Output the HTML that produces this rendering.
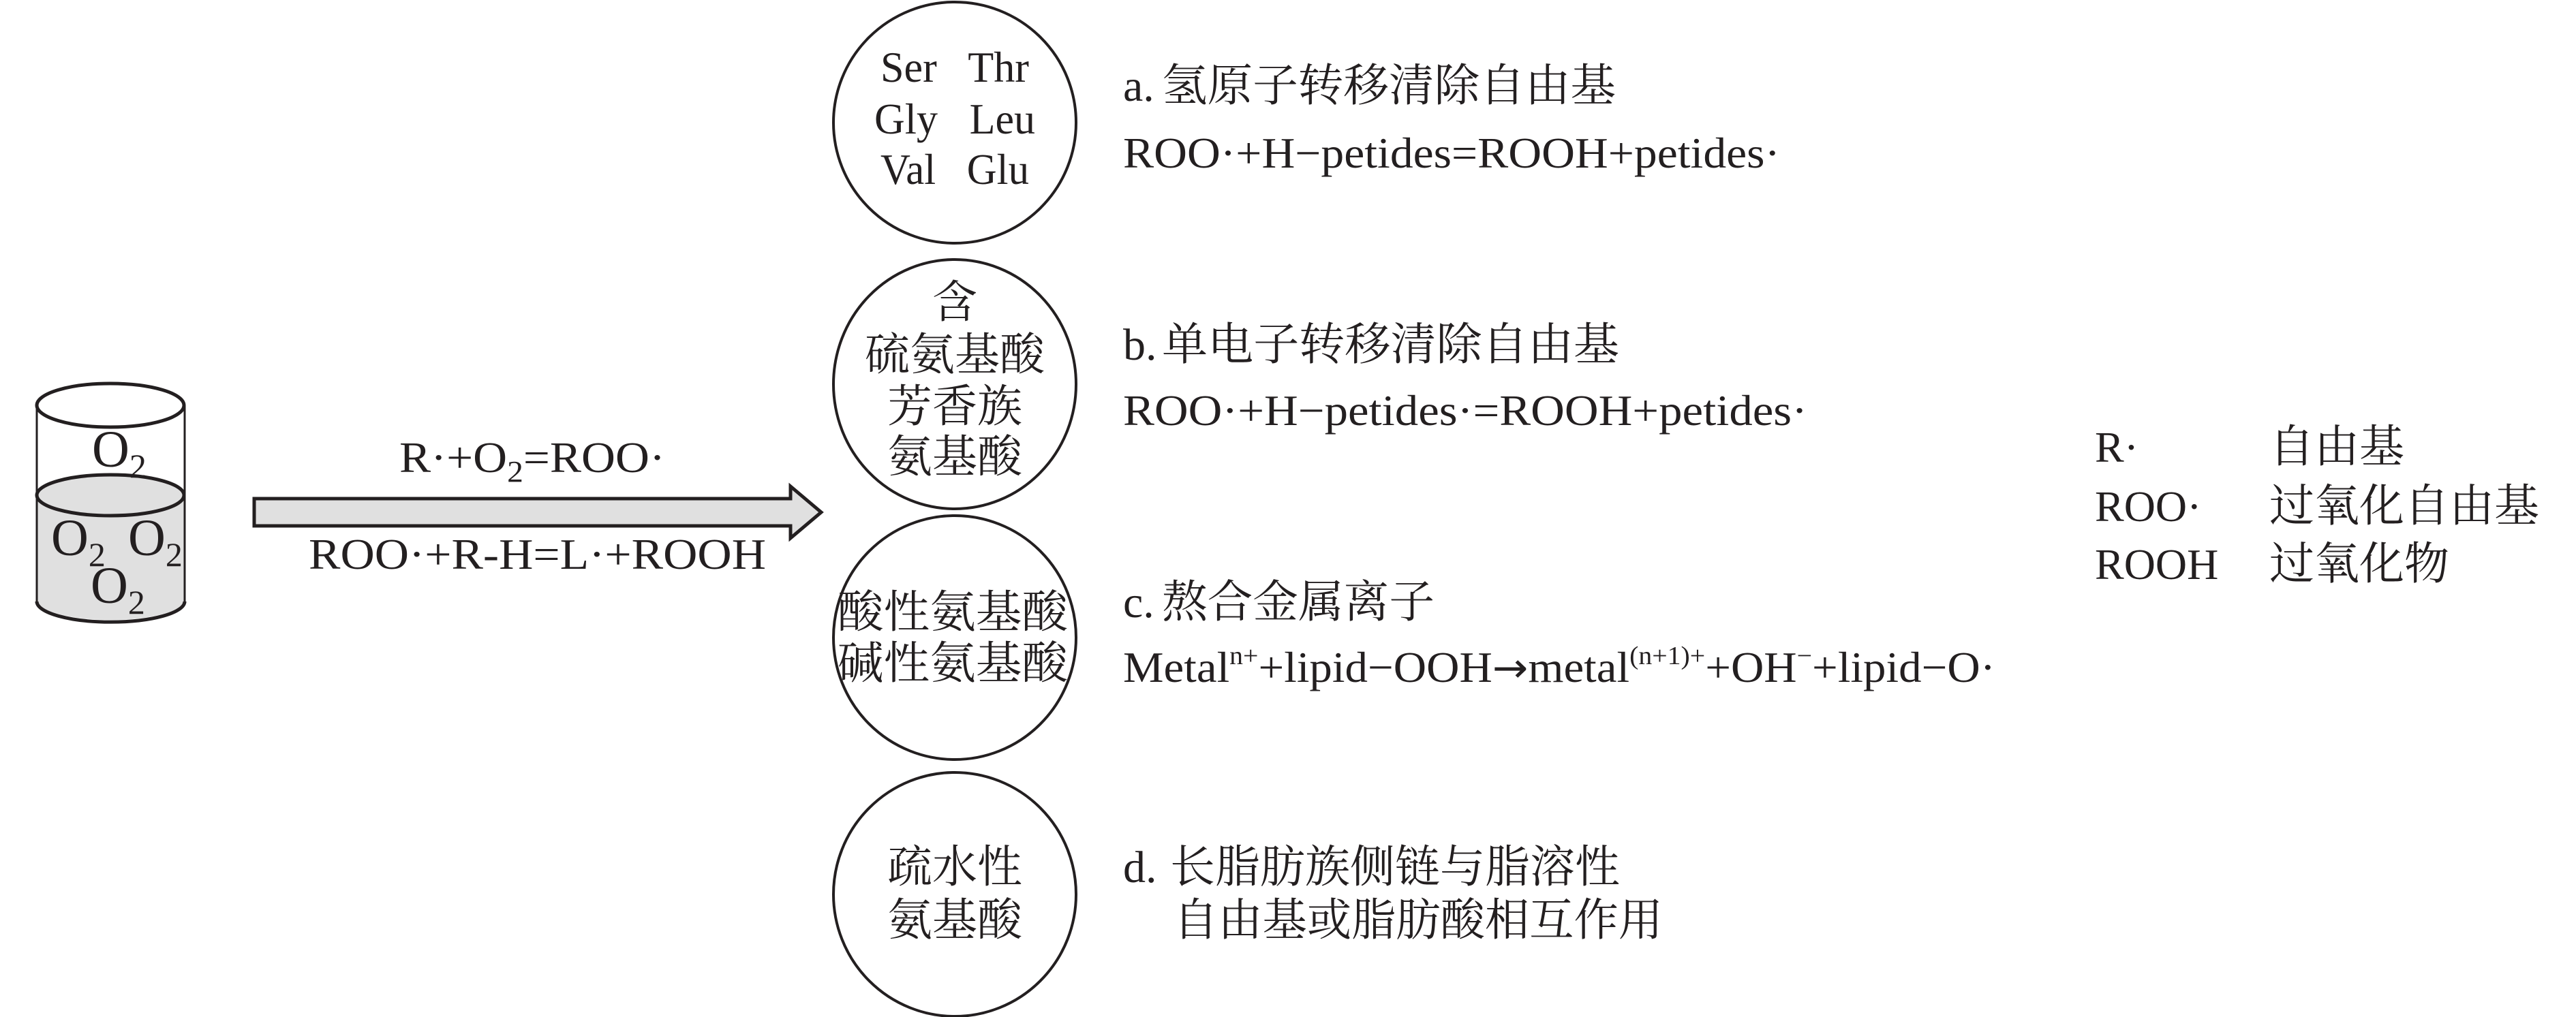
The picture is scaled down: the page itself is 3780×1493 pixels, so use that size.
<!DOCTYPE html>
<html><head><meta charset="utf-8"><style>
html,body{margin:0;padding:0;background:#fff;}
svg{display:block;}
text{fill:#231f20;}
.l{font-family:"Liberation Serif",serif;font-size:64px;}
.c{font-family:"Liberation Serif","Noto Serif CJK SC",serif;font-size:66px;}
</style></head><body>
<svg width="3780" height="1493" viewBox="0 0 3780 1493" xmlns="http://www.w3.org/2000/svg">
<!-- cylinder -->
<path d="M54 727 L54 883 A109 30 0 0 0 271 883 L271 727 Z" fill="#e0e0e0" stroke="none"/>
<ellipse cx="162" cy="727" rx="108" ry="30" fill="#e0e0e0" stroke="#231f20" stroke-width="5"/>
<line x1="54" y1="595" x2="54" y2="883" stroke="#231f20" stroke-width="3"/>
<line x1="271" y1="595" x2="271" y2="883" stroke="#231f20" stroke-width="3"/>
<path d="M54 883 A108 30 0 0 0 271 883" fill="none" stroke="#231f20" stroke-width="5"/>
<ellipse cx="162" cy="595" rx="108" ry="32" fill="#fff" stroke="#231f20" stroke-width="5"/>
<g class="l" style="font-size:76px">
<text x="135" y="685">O<tspan dy="16" font-size="50">2</tspan></text>
<text x="75" y="815">O<tspan dy="16" font-size="50">2</tspan></text>
<text x="188" y="815">O<tspan dy="16" font-size="50">2</tspan></text>
<text x="133" y="885">O<tspan dy="16" font-size="50">2</tspan></text>
</g>
<!-- arrow -->
<path d="M373 732 L1160 732 L1160 714 L1205 752 L1160 790 L1160 772 L373 772 Z" fill="#e0e0e0" stroke="#231f20" stroke-width="5"/>
<text class="l" x="586" y="693" textLength="390" lengthAdjust="spacingAndGlyphs">R·+O<tspan dy="14" font-size="44">2</tspan><tspan dy="-14">=ROO·</tspan></text>
<text class="l" x="453" y="835" textLength="671" lengthAdjust="spacingAndGlyphs">ROO·+R-H=L·+ROOH</text>
<!-- circles -->
<g fill="none" stroke="#231f20" stroke-width="4">
<ellipse cx="1401" cy="180" rx="178" ry="177"/>
<ellipse cx="1401" cy="564" rx="178" ry="183"/>
<ellipse cx="1401" cy="936" rx="178" ry="179"/>
<ellipse cx="1401" cy="1313" rx="178" ry="179"/>
</g>
<g class="l" text-anchor="middle">
<text x="1401" y="120" textLength="218" lengthAdjust="spacingAndGlyphs" xml:space="preserve">Ser   Thr</text>
<text x="1401" y="196" textLength="236" lengthAdjust="spacingAndGlyphs" xml:space="preserve">Gly   Leu</text>
<text x="1401" y="270" textLength="218" lengthAdjust="spacingAndGlyphs" xml:space="preserve">Val   Glu</text>
</g>
<g class="c" text-anchor="middle">
<text x="1401" y="466">含</text>
<text x="1401" y="543">硫氨基酸</text>
<text x="1401" y="619">芳香族</text>
<text x="1401" y="693">氨基酸</text>
<text x="1398" y="921" textLength="338" lengthAdjust="spacingAndGlyphs">酸性氨基酸</text>
<text x="1398" y="996" textLength="338" lengthAdjust="spacingAndGlyphs">碱性氨基酸</text>
<text x="1401" y="1295">疏水性</text>
<text x="1401" y="1373">氨基酸</text>
</g>
<!-- descriptions -->
<g class="c">
<text x="1648" y="148">a.</text><text x="1705" y="148" textLength="666" lengthAdjust="spacingAndGlyphs">氢原子转移清除自由基</text>
<text x="1648" y="528">b.</text><text x="1705" y="528" textLength="671" lengthAdjust="spacingAndGlyphs">单电子转移清除自由基</text>
<text x="1648" y="906">c.</text><text x="1705" y="906" textLength="400" lengthAdjust="spacingAndGlyphs">熬合金属离子</text>
<text x="1648" y="1295">d.</text><text x="1717" y="1295" textLength="660" lengthAdjust="spacingAndGlyphs">长脂肪族侧链与脂溶性</text>
<text x="1722" y="1373" textLength="718" lengthAdjust="spacingAndGlyphs">自由基或脂肪酸相互作用</text>
</g>
<g class="l">
<text x="1648" y="246" textLength="964" lengthAdjust="spacingAndGlyphs">ROO·+H−petides=ROOH+petides·</text>
<text x="1648" y="624" textLength="1004" lengthAdjust="spacingAndGlyphs">ROO·+H−petides·=ROOH+petides·</text>
<text x="1648" y="1001" textLength="1280" lengthAdjust="spacingAndGlyphs">Metal<tspan dy="-26" font-size="38">n+</tspan><tspan dy="26">+lipid−OOH</tspan><tspan font-family="DejaVu Sans" font-size="60">→</tspan><tspan>metal</tspan><tspan dy="-26" font-size="38">(n+1)+</tspan><tspan dy="26">+OH</tspan><tspan dy="-26" font-size="38">−</tspan><tspan dy="26">+lipid−O·</tspan></text>
</g>
<!-- legend -->
<g class="c">
<text x="3074" y="678" class="l">R·</text>
<text x="3074" y="765" class="l">ROO·</text>
<text x="3074" y="850" class="l">ROOH</text>
<text x="3330" y="678">自由基</text>
<text x="3330" y="765">过氧化自由基</text>
<text x="3330" y="850">过氧化物</text>
</g>
</svg>
</body></html>
